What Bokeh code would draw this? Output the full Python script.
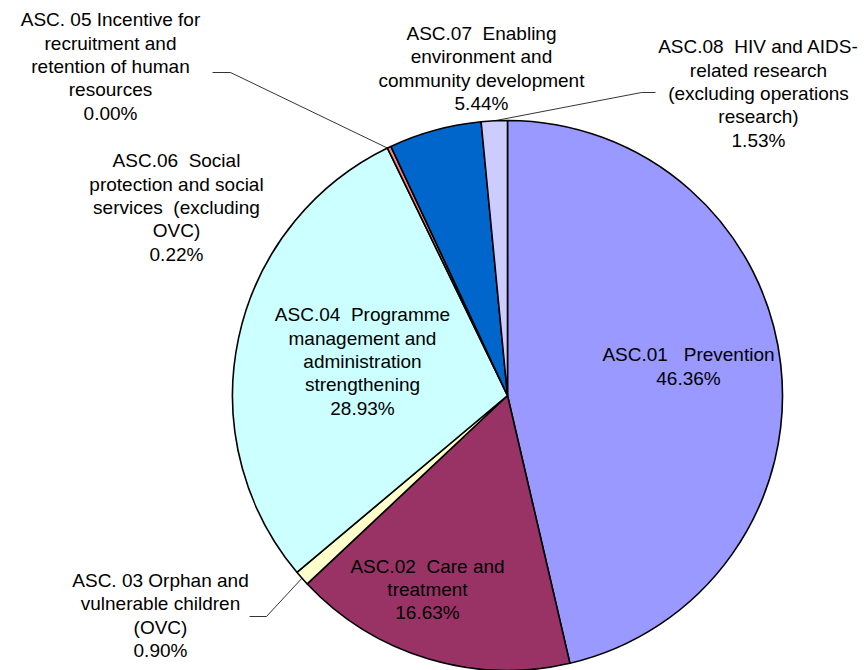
import math
from bokeh.plotting import figure
from bokeh.models import Range1d, ColumnDataSource
from bokeh.core.properties import value
from bokeh.embed import file_html
from bokeh.resources import INLINE

# ---- data ----
codes = ["ASC.01", "ASC.02", "ASC.03", "ASC.04", "ASC.05", "ASC.06", "ASC.07", "ASC.08"]
NB = "\u00a0"
labels = [
    f"ASC.01 {NB}{NB}Prevention",
    f"ASC.02 {NB}Care and\ntreatment",
    "ASC. 03 Orphan and\nvulnerable children\n(OVC)",
    f"ASC.04 {NB}Programme\nmanagement and\nadministration\nstrengthening",
    "ASC. 05 Incentive for\nrecruitment and\nretention of human\nresources",
    f"ASC.06 {NB}Social\nprotection and social\nservices {NB}(excluding\nOVC)",
    f"ASC.07 {NB}Enabling\nenvironment and\ncommunity development",
    f"ASC.08 {NB}HIV and AIDS-\nrelated research\n(excluding operations\nresearch)",
]
shares = [46.36, 16.63, 0.90, 28.93, 0.00, 0.22, 5.44, 1.53]
colors = ["#9999FF", "#993366", "#FFFFCC", "#CCFFFF", "#660066", "#FF8080", "#0066CC", "#CCCCFF"]

# ---- layout (image pixel coordinates) ----
W, H = 866, 670
CX, CY, R = 507, 395, 275
# label block centres
label_pos = [(688, 366), (427, 589), (160, 615), (362, 361), (110, 66), (176, 207), (481, 68), (758, 93)]
# leader lines: slice index -> (elbow points from label side), end on pie edge
leaders = {
    4: ("boundary", [(212, 72), (230, 72)]),
    7: ("mid", [(655, 92), (641, 92)]),
    2: ("mid", [(249, 616), (266, 616)]),
}


def Y(img_y):
    return H - img_y


p = figure(width=W, height=H, output_backend="svg", toolbar_location=None,
           x_range=Range1d(0, W), y_range=Range1d(0, H),
           min_border=0, outline_line_color=None)
p.axis.visible = False
p.grid.visible = False
p.background_fill_color = "white"
p.border_fill_color = "white"

total = sum(shares)
starts, ends, mids = [], [], []
cum = 0.0
for s in shares:
    a0 = math.pi / 2 - 2 * math.pi * cum / total
    cum += s
    a1 = math.pi / 2 - 2 * math.pi * cum / total
    starts.append(a0)
    ends.append(a1)
    mids.append((a0 + a1) / 2)

keep = [i for i, s in enumerate(shares) if s > 0]
src = ColumnDataSource(dict(start=[starts[i] for i in keep], end=[ends[i] for i in keep],
                            color=[colors[i] for i in keep]))
p.wedge(x=CX, y=Y(CY), radius=R, start_angle="start", end_angle="end",
        direction="clock", fill_color="color", line_color="black", line_width=1.6,
        source=src)

# leader lines
for i, (kind, pts) in leaders.items():
    ang = starts[i] if kind == "boundary" else mids[i]
    ex = CX + R * math.cos(ang)
    ey = Y(CY) + R * math.sin(ang)
    xs = [pt[0] for pt in pts] + [ex]
    ys = [Y(pt[1]) for pt in pts] + [ey]
    p.line(xs, ys, line_color="black", line_width=0.8)

texts = [f"{lab}\n{s:.2f}%" for lab, s in zip(labels, shares)]
p.text(x=[lp[0] for lp in label_pos], y=[Y(lp[1]) for lp in label_pos], text=texts,
       text_align="center", text_baseline="middle", text_font=value("Liberation Sans"),
       text_font_size="19px", text_line_height=1.115, text_color="black")

open("out.html", "w").write(file_html(p, INLINE))
